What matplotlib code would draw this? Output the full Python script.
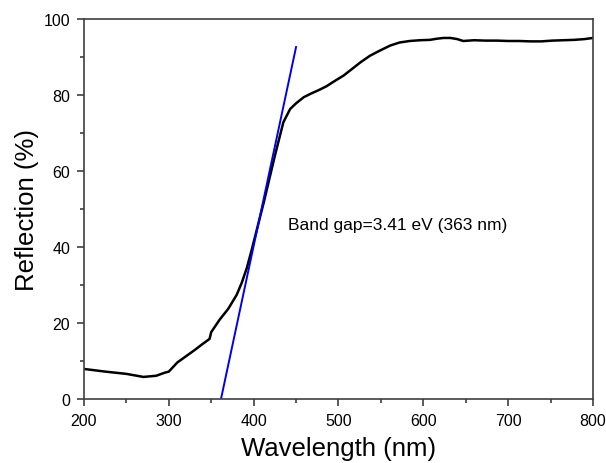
import matplotlib
matplotlib.use("Agg")
import matplotlib.pyplot as plt
import numpy as np
from matplotlib.ticker import MultipleLocator

plt.rcParams['font.family'] = ['Liberation Sans', 'DejaVu Sans']

# reflection spectrum
wavelength = [200, 225, 250, 270, 285, 295, 300, 310, 320, 330, 340, 348, 350,
              360, 370, 380, 386, 392, 398, 412, 425, 435, 443, 450, 459, 467, 476,
              486, 495, 506, 514, 526, 537, 549, 561, 572, 584, 596, 608, 616,
              624, 632, 640, 647, 660, 673, 687, 700, 713, 726, 739, 752, 765,
              778, 790, 800]
reflection = [7.9, 7.2, 6.6, 5.8, 6.1, 6.9, 7.2, 9.6, 11.2, 12.8, 14.5, 15.8, 17.6,
              20.9, 23.7, 27.4, 30.6, 34.5, 39.5, 51.8, 64.0, 72.8, 76.3, 77.8, 79.4, 80.3, 81.2,
              82.3, 83.6, 85.1, 86.5, 88.6, 90.3, 91.7, 93.0, 93.8, 94.2, 94.4, 94.5, 94.8,
              95.0, 95.0, 94.7, 94.2, 94.4, 94.3, 94.3, 94.2, 94.2, 94.1, 94.1, 94.3, 94.4,
              94.5, 94.7, 95.0]

# tangent line for the band gap
tangent_x = [361.5, 450]
tangent_y = [0, 92.6]

fig = plt.figure(figsize=(6.06, 4.64), dpi=100)
ax = fig.add_axes([0.1386, 0.138, 0.8399, 0.819])

ax.plot(wavelength, reflection, color='black', lw=1.8)
ax.plot(tangent_x, tangent_y, color='#0000ee', lw=1.4)

ax.text(441, 45.8, 'Band gap=3.41 eV (363 nm)', fontsize=12.5, va='center', ha='left')

ax.set_xlim(200, 800)
ax.set_ylim(0, 100)
ax.xaxis.set_major_locator(MultipleLocator(100))
ax.xaxis.set_minor_locator(MultipleLocator(50))
ax.yaxis.set_major_locator(MultipleLocator(20))
ax.yaxis.set_minor_locator(MultipleLocator(10))
ax.tick_params(which='both', direction='out', color='#404040', width=1.2, labelsize=11.5)
ax.tick_params(which='major', length=5, pad=5)
ax.tick_params(which='minor', length=3)
for s in ax.spines.values():
    s.set_color('#404040')
    s.set_linewidth(1.2)

ax.set_xlabel('Wavelength (nm)', fontsize=18.5, labelpad=6)
ax.set_ylabel('Reflection (%)', fontsize=18.5, labelpad=3)

plt.savefig('out.png', dpi=100)
